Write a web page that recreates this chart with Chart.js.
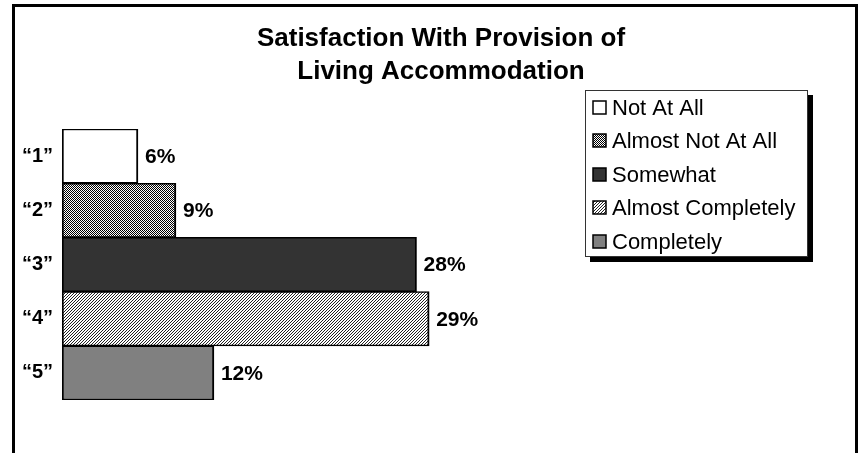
<!DOCTYPE html>
<html>
<head>
<meta charset="utf-8">
<script src="https://cdn.jsdelivr.net/npm/chart.js@4/dist/chart.umd.min.js"></script>
<style>
  body { margin: 0; background: #ffffff; }
  #wrap { width: 866px; height: 453px; }
</style>
</head>
<body>
<div id="wrap"><canvas id="myChart" width="866" height="453"></canvas></div>
<script>
var categories = ['\u201c1\u201d', '\u201c2\u201d', '\u201c3\u201d', '\u201c4\u201d', '\u201c5\u201d'];
var percentages = [6, 9, 28, 29, 12];
var legendLabels = ['Not At All', 'Almost Not At All', 'Somewhat', 'Almost Completely', 'Completely'];
var titleLines = ['Satisfaction With Provision of', 'Living Accommodation'];

var FONT = "'Liberation Sans', Arial, sans-serif";

// small bitmap patterns, like the old office fills
function makePattern(size, painter) {
  var c = document.createElement('canvas');
  c.width = size;
  c.height = size;
  var g = c.getContext('2d');
  g.fillStyle = '#ffffff';
  g.fillRect(0, 0, size, size);
  painter(g);
  return c.getContext('2d').createPattern(c, 'repeat');
}

var checker = makePattern(2, function(g) {
  g.fillStyle = '#000000';
  g.fillRect(0, 0, 1, 1);
  g.fillRect(1, 1, 1, 1);
});

var hatch = makePattern(3, function(g) {
  g.fillStyle = '#222222';
  for (var x = 0; x < 3; x++) {
    g.fillRect(x, (3 - x) % 3, 1, 1);
  }
});

var fills = ['#ffffff', checker, '#333333', hatch, '#808080'];

var framePlugin = {
  id: 'frame',
  beforeDraw: function(chart) {
    var ctx = chart.ctx;
    ctx.save();
    ctx.strokeStyle = '#000000';
    ctx.lineWidth = 3;
    ctx.beginPath();
    ctx.moveTo(13.5, 470);
    ctx.lineTo(13.5, 5.5);
    ctx.lineTo(856.5, 5.5);
    ctx.lineTo(856.5, 470);
    ctx.stroke();
    ctx.restore();
  }
};

var valueLabels = {
  id: 'valueLabels',
  afterDatasetsDraw: function(chart) {
    var ctx = chart.ctx;
    var meta = chart.getDatasetMeta(0);
    ctx.save();
    ctx.font = 'bold 21px ' + FONT;
    ctx.fillStyle = '#000000';
    ctx.textAlign = 'left';
    ctx.textBaseline = 'middle';
    meta.data.forEach(function(bar, i) {
      ctx.fillText(percentages[i] + '%', bar.x + 7, bar.y + 1);
    });
    ctx.restore();
  }
};

// boxed legend with a drop shadow
var boxLegend = {
  id: 'boxLegend',
  afterDraw: function(chart) {
    var ctx = chart.ctx;
    var x = 585, y = 90, w = 223, h = 167;
    ctx.save();
    ctx.fillStyle = '#000000';
    ctx.fillRect(x + 5, y + 5, w, h);
    ctx.fillStyle = '#ffffff';
    ctx.fillRect(x, y, w, h);
    ctx.strokeStyle = '#333333';
    ctx.lineWidth = 1;
    ctx.strokeRect(x + 0.5, y + 0.5, w - 1, h - 1);

    ctx.font = '22px ' + FONT;
    ctx.textAlign = 'left';
    ctx.textBaseline = 'middle';
    for (var i = 0; i < legendLabels.length; i++) {
      var cy = 108 + i * 33.4;
      ctx.fillStyle = fills[i];
      ctx.fillRect(593, Math.round(cy) - 7, 13, 13);
      ctx.strokeStyle = '#000000';
      ctx.lineWidth = 1.5;
      ctx.strokeRect(593, Math.round(cy) - 7, 13, 13);
      ctx.fillStyle = '#000000';
      ctx.fillText(legendLabels[i], 612, cy + 1);
    }
    ctx.restore();
  }
};

var chart = new Chart(document.getElementById('myChart'), {
  type: 'bar',
  data: {
    labels: categories,
    datasets: [{
      data: percentages,
      backgroundColor: fills,
      borderColor: '#000000',
      borderWidth: { top: 1.5, bottom: 1.5, left: 2, right: 2 },
      borderSkipped: false,
      categoryPercentage: 1,
      barPercentage: 1
    }]
  },
  options: {
    indexAxis: 'y',
    responsive: false,
    animation: false,
    events: [],
    layout: {
      padding: { left: 16, right: 0, top: 0, bottom: 53 }
    },
    scales: {
      x: {
        display: false,
        min: 0,
        max: 63.5
      },
      y: {
        grid: { display: false, drawTicks: false },
        border: { display: false },
        ticks: {
          color: '#000000',
          padding: 9,
          font: { family: FONT, size: 20, weight: 'bold' }
        },
        afterFit: function(axis) { axis.width = 46; }
      }
    },
    plugins: {
      legend: { display: false },
      tooltip: { enabled: false },
      title: {
        display: true,
        text: titleLines,
        color: '#000000',
        font: { family: FONT, size: 26, weight: 'bold', lineHeight: 1.27 },
        padding: { top: 22, bottom: 41 }
      }
    }
  },
  plugins: [framePlugin, valueLabels, boxLegend]
});
</script>
</body>
</html>
